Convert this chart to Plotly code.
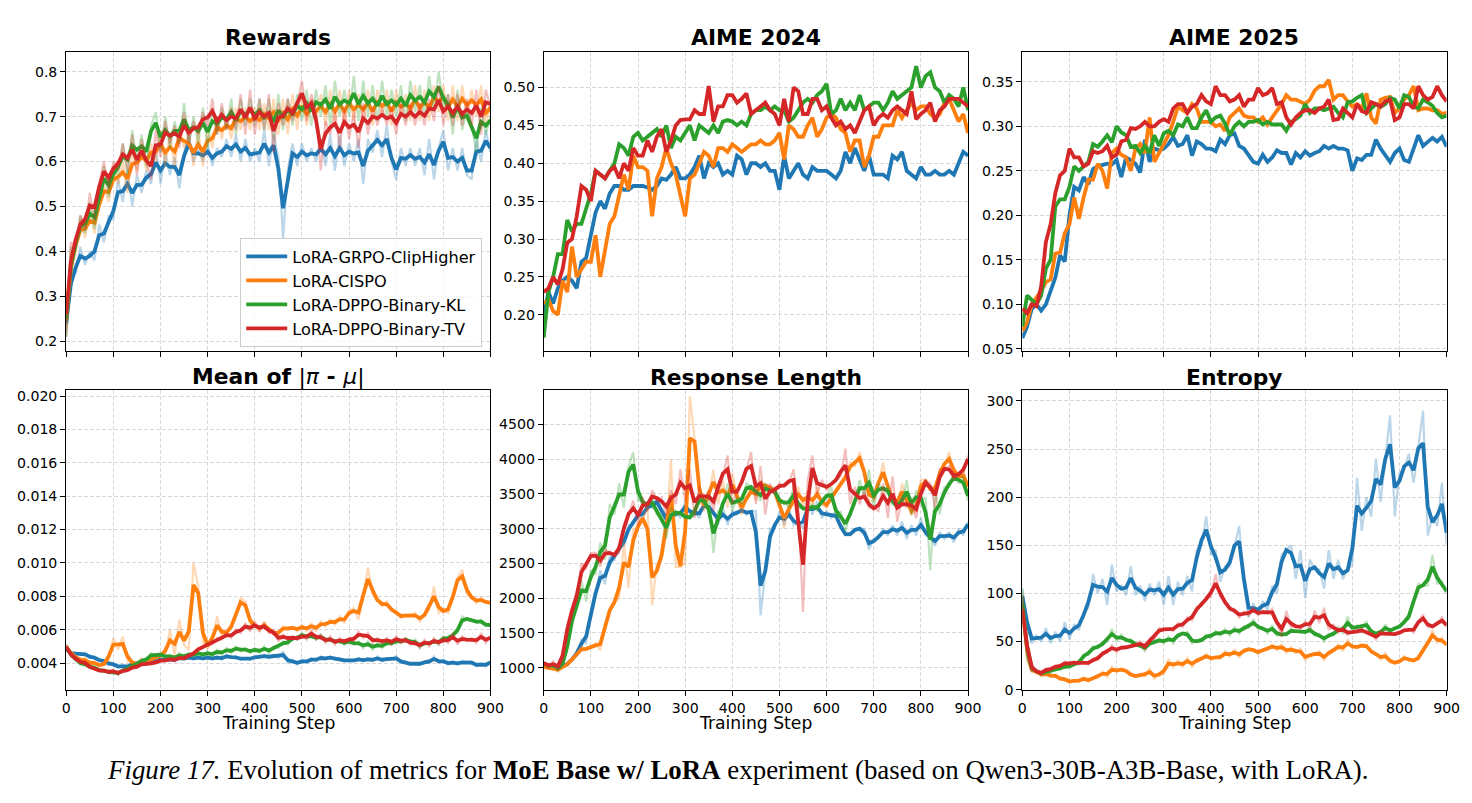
import numpy as np
import plotly.graph_objects as go

# ---------------- data (sampled every 10 training steps, 0..900) ----------------
STEP = 10
SERIES = ["LoRA-GRPO-ClipHigher", "LoRA-CISPO", "LoRA-DPPO-Binary-KL", "LoRA-DPPO-Binary-TV"]
COLORS = ["#1f77b4", "#ff7f0e", "#2ca02c", "#d62728"]
FAINT = ["rgba(31,119,180,0.3)", "rgba(255,127,14,0.3)", "rgba(44,160,44,0.3)", "rgba(214,39,40,0.3)"]

# Rewards (raw per-step values)
rewards_grpo = [0.21,0.36,0.35,0.41,0.37,0.40,0.38,0.46,0.42,0.48,
                0.47,0.56,0.51,0.58,0.50,0.57,0.53,0.58,0.55,0.63,
                0.55,0.62,0.57,0.61,0.54,0.62,0.66,0.60,0.63,0.60,
                0.64,0.59,0.63,0.61,0.65,0.61,0.66,0.60,0.65,0.60,
                0.63,0.60,0.67,0.59,0.66,0.61,0.43,0.58,0.64,0.59,
                0.64,0.60,0.63,0.60,0.65,0.59,0.66,0.58,0.66,0.59,
                0.64,0.60,0.65,0.55,0.65,0.62,0.67,0.61,0.68,0.60,
                0.56,0.63,0.59,0.63,0.59,0.63,0.57,0.65,0.56,0.63,
                0.67,0.58,0.63,0.58,0.63,0.57,0.56,0.65,0.60,0.67,
                0.62]
rewards_cispo = [0.21,0.40,0.40,0.47,0.43,0.49,0.44,0.51,0.55,0.51,
                 0.58,0.55,0.60,0.53,0.62,0.58,0.63,0.58,0.64,0.60,
                 0.67,0.59,0.66,0.59,0.68,0.63,0.66,0.59,0.67,0.59,
                 0.67,0.63,0.70,0.65,0.70,0.65,0.72,0.67,0.72,0.67,
                 0.72,0.67,0.73,0.67,0.74,0.66,0.74,0.66,0.75,0.67,
                 0.75,0.68,0.74,0.69,0.75,0.68,0.76,0.68,0.76,0.68,
                 0.76,0.69,0.75,0.69,0.76,0.68,0.76,0.70,0.76,0.68,
                 0.76,0.70,0.75,0.69,0.77,0.69,0.76,0.69,0.77,0.71,
                 0.77,0.69,0.77,0.69,0.77,0.70,0.76,0.70,0.77,0.68,
                 0.73]
rewards_kl = [0.21,0.41,0.40,0.48,0.44,0.51,0.45,0.52,0.59,0.52,
              0.59,0.57,0.64,0.57,0.67,0.60,0.66,0.59,0.68,0.71,
              0.62,0.70,0.63,0.69,0.64,0.73,0.64,0.70,0.64,0.72,
              0.63,0.72,0.66,0.72,0.67,0.74,0.66,0.74,0.68,0.74,
              0.68,0.74,0.67,0.74,0.65,0.75,0.67,0.74,0.68,0.75,
              0.69,0.76,0.68,0.76,0.70,0.77,0.68,0.78,0.70,0.76,
              0.70,0.79,0.69,0.78,0.70,0.77,0.69,0.78,0.70,0.76,
              0.70,0.77,0.69,0.78,0.71,0.77,0.70,0.79,0.71,0.80,
              0.72,0.75,0.66,0.76,0.67,0.72,0.68,0.62,0.72,0.66,
              0.70]
rewards_tv = [0.22,0.42,0.41,0.48,0.45,0.53,0.47,0.55,0.60,0.54,
              0.60,0.58,0.64,0.58,0.66,0.57,0.65,0.60,0.56,0.67,
              0.61,0.69,0.64,0.68,0.63,0.71,0.64,0.69,0.66,0.71,
              0.68,0.74,0.66,0.73,0.67,0.72,0.67,0.75,0.66,0.76,
              0.66,0.74,0.67,0.75,0.62,0.73,0.68,0.74,0.69,0.73,
              0.78,0.69,0.75,0.71,0.58,0.69,0.66,0.71,0.63,0.72,
              0.65,0.71,0.63,0.73,0.66,0.72,0.68,0.72,0.68,0.72,
              0.66,0.73,0.68,0.73,0.68,0.73,0.68,0.74,0.69,0.77,
              0.68,0.75,0.68,0.75,0.68,0.74,0.68,0.76,0.66,0.76,
              0.72]

# AIME 2024 (evaluation accuracy)
aime24_grpo = [0.20,0.23,0.215,0.235,0.245,0.25,0.245,0.235,0.27,0.275,
               0.305,0.335,0.35,0.34,0.36,0.37,0.37,0.365,0.365,0.37,
               0.37,0.37,0.368,0.365,0.37,0.38,0.378,0.385,0.395,0.38,
               0.38,0.385,0.395,0.41,0.38,0.40,0.395,0.40,0.385,0.39,
               0.385,0.41,0.405,0.385,0.40,0.40,0.395,0.40,0.39,0.39,
               0.365,0.41,0.38,0.39,0.40,0.385,0.38,0.395,0.39,0.39,
               0.39,0.385,0.38,0.39,0.415,0.40,0.42,0.405,0.39,0.41,
               0.385,0.385,0.385,0.38,0.41,0.405,0.415,0.39,0.385,0.38,
               0.395,0.385,0.385,0.39,0.385,0.385,0.39,0.385,0.40,0.415,
               0.41]
aime24_cispo = [0.215,0.22,0.205,0.20,0.245,0.23,0.29,0.25,0.26,0.27,
                0.27,0.305,0.25,0.285,0.32,0.33,0.36,0.385,0.365,0.41,
                0.395,0.395,0.39,0.33,0.38,0.395,0.42,0.40,0.385,0.36,
                0.33,0.38,0.385,0.40,0.415,0.41,0.395,0.42,0.42,0.415,
                0.425,0.42,0.415,0.42,0.425,0.425,0.43,0.425,0.425,0.43,
                0.44,0.405,0.45,0.445,0.435,0.435,0.45,0.46,0.435,0.445,
                0.46,0.465,0.46,0.445,0.44,0.415,0.43,0.43,0.395,0.41,
                0.435,0.435,0.45,0.45,0.45,0.47,0.46,0.47,0.48,0.47,
                0.475,0.475,0.465,0.46,0.465,0.48,0.485,0.47,0.455,0.465,
                0.44]
aime24_kl = [0.17,0.23,0.25,0.28,0.28,0.325,0.31,0.32,0.32,0.34,
             0.36,0.39,0.385,0.38,0.39,0.40,0.425,0.42,0.41,0.435,
             0.44,0.43,0.435,0.44,0.445,0.435,0.45,0.42,0.435,0.43,
             0.44,0.45,0.43,0.45,0.445,0.44,0.45,0.44,0.455,0.457,
             0.455,0.45,0.455,0.45,0.465,0.47,0.47,0.475,0.47,0.475,
             0.47,0.47,0.455,0.46,0.47,0.48,0.485,0.48,0.49,0.495,
             0.505,0.465,0.47,0.485,0.47,0.48,0.47,0.49,0.47,0.475,
             0.48,0.48,0.47,0.48,0.495,0.485,0.49,0.495,0.50,0.528,
             0.50,0.515,0.52,0.50,0.495,0.48,0.49,0.485,0.475,0.50,
             0.47]
aime24_tv = [0.23,0.235,0.25,0.24,0.26,0.295,0.30,0.33,0.37,0.365,
             0.35,0.39,0.385,0.38,0.39,0.395,0.38,0.40,0.39,0.42,
             0.41,0.41,0.43,0.415,0.435,0.445,0.415,0.43,0.45,0.457,
             0.458,0.458,0.47,0.465,0.465,0.502,0.455,0.475,0.475,0.49,
             0.49,0.48,0.485,0.492,0.465,0.47,0.475,0.48,0.47,0.465,
             0.45,0.485,0.455,0.50,0.495,0.465,0.465,0.485,0.485,0.47,
             0.475,0.46,0.45,0.455,0.445,0.45,0.44,0.455,0.47,0.475,
             0.45,0.46,0.465,0.46,0.47,0.475,0.47,0.465,0.495,0.458,
             0.465,0.47,0.48,0.455,0.47,0.475,0.485,0.485,0.485,0.48,
             0.475]

# AIME 2025 (evaluation accuracy)
aime25_grpo = [0.062,0.075,0.095,0.10,0.093,0.10,0.115,0.13,0.155,0.148,
               0.20,0.232,0.228,0.243,0.235,0.252,0.255,0.257,0.258,0.257,
               0.262,0.243,0.265,0.262,0.258,0.248,0.285,0.26,0.275,0.273,
               0.275,0.28,0.288,0.278,0.28,0.29,0.267,0.283,0.28,0.275,
               0.275,0.272,0.285,0.28,0.29,0.292,0.278,0.275,0.268,0.26,
               0.258,0.268,0.26,0.265,0.273,0.27,0.27,0.257,0.27,0.265,
               0.272,0.267,0.27,0.272,0.278,0.275,0.278,0.275,0.275,0.273,
               0.25,0.264,0.262,0.268,0.268,0.285,0.275,0.268,0.26,0.27,
               0.275,0.262,0.26,0.275,0.29,0.278,0.282,0.287,0.283,0.288,
               0.277]
aime25_cispo = [0.07,0.08,0.10,0.108,0.115,0.125,0.128,0.157,0.158,0.18,
                0.19,0.22,0.196,0.22,0.24,0.24,0.258,0.25,0.23,0.27,
                0.275,0.268,0.265,0.25,0.275,0.28,0.27,0.31,0.26,0.27,
                0.28,0.29,0.305,0.322,0.318,0.315,0.325,0.32,0.305,0.305,
                0.305,0.30,0.302,0.295,0.31,0.315,0.32,0.312,0.31,0.31,
                0.305,0.31,0.302,0.31,0.318,0.325,0.335,0.33,0.33,0.328,
                0.325,0.33,0.34,0.345,0.345,0.352,0.33,0.335,0.335,0.328,
                0.322,0.325,0.32,0.337,0.31,0.303,0.33,0.332,0.333,0.315,
                0.32,0.33,0.335,0.345,0.318,0.32,0.32,0.318,0.318,0.314,
                0.315]
aime25_kl = [0.075,0.11,0.105,0.10,0.11,0.14,0.15,0.21,0.218,0.218,
             0.232,0.255,0.25,0.255,0.26,0.28,0.277,0.283,0.29,0.282,
             0.30,0.293,0.29,0.277,0.278,0.27,0.278,0.27,0.29,0.278,
             0.292,0.295,0.29,0.302,0.30,0.31,0.298,0.298,0.31,0.318,
             0.305,0.31,0.312,0.303,0.29,0.30,0.305,0.30,0.305,0.305,
             0.307,0.302,0.305,0.302,0.302,0.302,0.295,0.305,0.308,0.312,
             0.325,0.315,0.32,0.32,0.318,0.32,0.322,0.315,0.31,0.327,
             0.328,0.332,0.335,0.315,0.32,0.325,0.322,0.325,0.332,0.33,
             0.32,0.335,0.333,0.322,0.32,0.33,0.327,0.323,0.315,0.31,
             0.312]
aime25_tv = [0.095,0.09,0.10,0.098,0.12,0.17,0.19,0.225,0.245,0.25,
             0.275,0.265,0.265,0.255,0.258,0.272,0.27,0.272,0.278,0.265,
             0.268,0.283,0.285,0.298,0.297,0.30,0.305,0.30,0.30,0.305,
             0.308,0.305,0.32,0.325,0.325,0.315,0.322,0.325,0.335,0.328,
             0.325,0.345,0.335,0.335,0.328,0.33,0.335,0.322,0.33,0.33,
             0.343,0.335,0.337,0.343,0.325,0.327,0.31,0.302,0.31,0.315,
             0.318,0.318,0.315,0.32,0.322,0.33,0.307,0.308,0.32,0.315,
             0.31,0.325,0.317,0.315,0.327,0.325,0.322,0.328,0.33,0.307,
             0.31,0.325,0.325,0.32,0.345,0.335,0.33,0.333,0.345,0.335,
             0.328]

# Mean of |pi - mu| (raw per-step values)
mean_grpo = [0.0049,0.0045,0.0046,0.0045,0.0046,0.0043,0.0044,0.0041,0.0042,0.0039,
             0.0040,0.0037,0.0039,0.0037,0.0040,0.0039,0.0041,0.0039,0.0042,0.0040,
             0.0043,0.0041,0.0043,0.0041,0.0044,0.0042,0.0044,0.0042,0.0044,0.0042,
             0.0044,0.0042,0.0044,0.0042,0.0045,0.0043,0.0044,0.0042,0.0043,0.0042,
             0.0044,0.0043,0.0045,0.0043,0.0045,0.0043,0.0047,0.0040,0.0042,0.0039,
             0.0042,0.0040,0.0043,0.0041,0.0044,0.0042,0.0044,0.0042,0.0043,0.0041,
             0.0042,0.0041,0.0043,0.0041,0.0043,0.0041,0.0044,0.0041,0.0043,0.0042,
             0.0044,0.0040,0.0041,0.0039,0.0040,0.0039,0.0041,0.0040,0.0044,0.0040,
             0.0042,0.0039,0.0041,0.0039,0.0041,0.0040,0.0041,0.0038,0.0040,0.0038,
             0.0041]
mean_cispo = [0.0051,0.0045,0.0044,0.0041,0.0043,0.0039,0.0041,0.0038,0.0039,0.0042,
              0.0055,0.0048,0.0056,0.0041,0.0041,0.0038,0.0043,0.0040,0.0043,0.0043,
              0.0045,0.0044,0.0060,0.0044,0.0066,0.0051,0.0048,0.0100,0.0086,0.0052,
              0.0049,0.0053,0.0068,0.0056,0.0058,0.0061,0.0068,0.0079,0.0077,0.0063,
              0.0063,0.0059,0.0065,0.0059,0.0058,0.0057,0.0062,0.0060,0.0062,0.0059,
              0.0063,0.0059,0.0064,0.0059,0.0065,0.0062,0.0066,0.0063,0.0068,0.0064,
              0.0071,0.0073,0.0066,0.0080,0.0097,0.0081,0.0078,0.0074,0.0077,0.0071,
              0.0071,0.0067,0.0069,0.0068,0.0070,0.0065,0.0069,0.0072,0.0086,0.0070,
              0.0072,0.0070,0.0079,0.0091,0.0096,0.0081,0.0080,0.0076,0.0079,0.0076,
              0.0076]
mean_kl = [0.0051,0.0044,0.0043,0.0039,0.0040,0.0037,0.0038,0.0035,0.0036,0.0034,
           0.0035,0.0033,0.0036,0.0036,0.0039,0.0039,0.0042,0.0041,0.0046,0.0044,
           0.0046,0.0043,0.0045,0.0042,0.0046,0.0043,0.0046,0.0044,0.0047,0.0044,
           0.0047,0.0044,0.0048,0.0045,0.0049,0.0046,0.0050,0.0047,0.0049,0.0046,
           0.0049,0.0046,0.0050,0.0046,0.0050,0.0049,0.0053,0.0051,0.0056,0.0054,
           0.0058,0.0055,0.0057,0.0054,0.0057,0.0053,0.0055,0.0052,0.0054,0.0051,
           0.0054,0.0051,0.0053,0.0049,0.0053,0.0048,0.0052,0.0049,0.0053,0.0051,
           0.0054,0.0052,0.0055,0.0052,0.0054,0.0049,0.0053,0.0051,0.0054,0.0051,
           0.0056,0.0054,0.0057,0.0058,0.0068,0.0066,0.0066,0.0064,0.0066,0.0062,
           0.0063]
mean_tv = [0.0051,0.0044,0.0043,0.0040,0.0041,0.0037,0.0037,0.0035,0.0036,0.0034,
           0.0036,0.0033,0.0036,0.0035,0.0038,0.0037,0.0040,0.0039,0.0040,0.0040,
           0.0042,0.0041,0.0043,0.0041,0.0044,0.0042,0.0045,0.0045,0.0049,0.0049,
           0.0052,0.0051,0.0055,0.0054,0.0058,0.0055,0.0060,0.0058,0.0064,0.0059,
           0.0065,0.0059,0.0064,0.0058,0.0060,0.0053,0.0057,0.0054,0.0056,0.0054,
           0.0057,0.0054,0.0060,0.0054,0.0057,0.0052,0.0056,0.0051,0.0055,0.0052,
           0.0055,0.0053,0.0059,0.0055,0.0058,0.0052,0.0055,0.0052,0.0055,0.0051,
           0.0056,0.0052,0.0055,0.0051,0.0053,0.0049,0.0054,0.0050,0.0055,0.0051,
           0.0055,0.0052,0.0058,0.0051,0.0056,0.0053,0.0055,0.0052,0.0058,0.0052,
           0.0056]

# Response length (raw per-step values)
length_grpo = [1020,990,1030,970,1040,1030,1130,1170,1400,1350,
               1800,2050,2400,2200,2600,2550,2750,2750,3050,3050,
               3250,3150,3350,3300,3450,3250,3100,3150,3250,3150,
               3400,3200,3250,3150,3400,3300,3250,3050,3300,3050,
               3250,3200,3300,3200,3250,3250,1750,2400,3000,3000,
               3250,3050,3300,3050,3100,3000,3400,3200,3400,3150,
               3250,3150,3250,3000,2900,2900,3000,3000,3000,2700,
               2850,2850,3000,2900,3050,2900,3100,2850,3050,2900,
               3150,2900,2900,2750,2950,2850,2950,2800,3000,2900,
               3100]
length_cispo = [1020,980,1000,940,1020,1030,1130,1170,1300,1250,
                1300,1350,1250,1600,1850,1950,2000,2800,2150,3000,
                3000,3150,3300,1900,2500,2550,2950,4000,2450,2450,
                2500,4900,4300,3450,3250,3450,3850,3350,3700,3300,
                3800,3450,3200,3450,3600,3400,3700,3600,3600,3550,
                3400,3000,3350,3350,3600,3300,3550,3300,3600,3350,
                3300,3450,3550,3650,3700,3950,3900,4100,3850,3400,
                3400,3650,3950,3550,3400,3300,3650,3400,3200,3250,
                3700,3700,3550,3500,3850,3900,4100,3800,3700,3850,
                3550]
length_kl = [1080,1000,1060,960,1030,1250,1750,1850,2250,1950,
             2400,2350,2800,2550,3350,3200,3650,3300,3900,4100,
             3400,3400,3300,3450,3200,3200,2850,3300,3200,3250,
             3150,3150,3200,3500,3350,3450,2650,3250,3300,3650,
             3250,3450,3350,3650,3600,3550,3400,3650,3500,3600,
             3350,3400,3300,3600,3300,3300,3250,3350,3250,3400,
             3450,3600,3150,3250,2950,3250,3350,3700,3450,3850,
             3300,3650,3550,3600,3350,3300,3350,3700,3200,3550,
             3400,3450,2400,3550,3200,3600,3600,3800,3650,3750,
             3400]
length_tv = [1080,1000,1090,970,1100,1600,1850,1950,2500,2420,
             2650,2650,2450,2700,2650,2600,2650,3050,3200,3400,
             3050,3450,3250,3550,3400,3450,3200,3550,3350,3850,
             3400,3850,3150,3600,3400,3550,3250,3650,3750,4050,
             3350,3550,3650,3850,4100,3350,3900,3200,3650,3500,
             3650,3600,3650,3850,3300,1800,3700,4050,3500,3700,
             3550,3650,3700,3750,4150,3350,3600,3350,3550,3300,
             3300,3250,3650,3150,3750,3100,3450,3300,3400,3150,
             3550,3700,3650,3300,3850,3850,3900,3700,3800,3800,
             4050]

# Entropy (raw per-step values)
entropy_grpo = [105,66,48,56,50,64,48,60,50,70,
                52,68,62,80,85,120,100,115,88,130,
                102,108,98,128,98,108,92,110,98,112,
                88,118,88,112,98,118,102,145,150,180,
                140,145,112,128,128,150,170,110,75,90,
                78,92,82,108,100,140,145,150,115,145,
                95,135,125,125,105,145,115,135,115,125,
                130,220,165,200,180,240,195,240,285,180,
                225,230,245,215,250,290,160,180,170,215,
                150]
entropy_cispo = [100,30,18,19,14,18,13,16,10,12,
                 7,10,8,13,8,13,12,19,13,24,
                 18,22,20,15,13,16,14,22,11,17,
                 16,32,23,30,23,34,23,32,31,37,
                 31,34,32,40,34,42,33,42,42,42,
                 37,42,41,47,41,47,38,44,38,43,
                 30,37,36,40,30,40,40,47,40,52,
                 43,44,46,47,38,38,31,38,28,28,
                 28,35,30,30,31,42,48,62,48,54,
                 45]
entropy_kl = [105,32,20,20,15,20,17,23,20,25,
              23,27,26,37,36,45,43,48,50,63,
              50,57,50,52,46,47,40,50,48,53,
              48,55,48,58,58,60,48,51,50,57,
              54,61,56,63,56,65,58,66,64,73,
              63,65,58,67,56,58,56,63,60,61,
              58,65,56,58,50,58,56,65,58,76,
              60,67,64,71,58,58,58,68,58,65,
              64,71,73,92,110,108,108,140,110,112,
              100]
entropy_tv = [95,38,20,20,15,22,20,25,23,29,
              26,29,27,29,26,32,31,39,38,46,
              39,45,43,46,46,50,41,53,52,64,
              62,63,61,69,65,75,72,86,87,96,
              96,120,96,92,82,84,75,81,77,86,
              77,82,79,84,70,55,82,65,67,63,
              71,63,82,69,85,62,67,59,65,57,
              61,59,63,59,58,52,61,57,58,57,
              59,62,63,59,71,78,65,65,68,75,
              65]

# tick labels
X_TICKS = [0, 100, 200, 300, 400, 500, 600, 700, 800, 900]
REWARD_TICKS = [0.2, 0.3, 0.4, 0.5, 0.6, 0.7, 0.8]
AIME24_TICKS = [0.20, 0.25, 0.30, 0.35, 0.40, 0.45, 0.50]
AIME25_TICKS = [0.05, 0.10, 0.15, 0.20, 0.25, 0.30, 0.35]
MEAN_TICKS = [0.004, 0.006, 0.008, 0.010, 0.012, 0.014, 0.016, 0.018, 0.020]
LENGTH_TICKS = [1000, 1500, 2000, 2500, 3000, 3500, 4000, 4500]
ENTROPY_TICKS = [0, 50, 100, 150, 200, 250, 300]

# ---------------- figure ----------------
W, H = 1472, 803
# observed display mapping of the rendered page: shown = S * design + offset
SX, OX, SY = 0.9894, 3.7, 0.99
FS = 1 / SX  # font compensation


def px(x):  # target pixel x -> paper fraction
    return (x - OX) / SX / W


def py(y):  # target pixel y (from top) -> paper fraction
    return 1 - y / SY / H


COLS_PX = [(65, 490), (543.3, 968.3), (1022.7, 1447.7)]
ROWS_PX = [(50, 350), (389.3, 689.3)]


def smooth(v):
    v = np.asarray(v, dtype=float)
    p = np.concatenate([[v[0]], v, [v[-1]]])
    return 0.2 * p[:-2] + 0.6 * p[1:-1] + 0.2 * p[2:]


panels = [
    dict(title="<b>Rewards</b>", data=[rewards_grpo, rewards_cispo, rewards_kl, rewards_tv],
         raw=True, yr=[0.178, 0.844], ticks=REWARD_TICKS, fmt=".1f", r=0, c=0, legend=True),
    dict(title="<b>AIME 2024</b>", data=[aime24_grpo, aime24_cispo, aime24_kl, aime24_tv],
         raw=False, yr=[0.152, 0.547], ticks=AIME24_TICKS, fmt=".2f", r=0, c=1),
    dict(title="<b>AIME 2025</b>", data=[aime25_grpo, aime25_cispo, aime25_kl, aime25_tv],
         raw=False, yr=[0.0474, 0.3836], ticks=AIME25_TICKS, fmt=".2f", r=0, c=2),
    dict(title="<b>Mean of </b>|<i>π</i><b> - </b><i>μ</i>|", data=[mean_grpo, mean_cispo, mean_kl, mean_tv],
         raw=True, yr=[0.00241, 0.02034], ticks=MEAN_TICKS, fmt=".3f", r=1, c=0),
    dict(title="<b>Response Length</b>", data=[length_grpo, length_cispo, length_kl, length_tv],
         raw=True, yr=[684, 4988], ticks=LENGTH_TICKS, fmt="d", r=1, c=1),
    dict(title="<b>Entropy</b>", data=[entropy_grpo, entropy_cispo, entropy_kl, entropy_tv],
         raw=True, yr=[0, 311], ticks=ENTROPY_TICKS, fmt="d", r=1, c=2),
]

fig = go.Figure()
layout = dict(width=W, height=H, margin=dict(l=0, r=0, t=0, b=0),
              paper_bgcolor="white", plot_bgcolor="white", showlegend=True,
              font=dict(family="DejaVu Sans", size=14 * FS, color="black"))
annotations = []
TICKFONT = dict(family="DejaVu Sans", size=14 * FS, color="black")

for i, p in enumerate(panels):
    k = "" if i == 0 else str(i + 1)
    x0, x1 = COLS_PX[p["c"]]
    y0, y1 = ROWS_PX[p["r"]]
    xdom = [px(x0), px(x1)]
    ydom = [py(y1), py(y0)]
    common = dict(showline=True, mirror=True, linecolor="black", linewidth=1,
                  ticks="outside", ticklen=5, tickwidth=1, tickcolor="black",
                  showgrid=True, gridcolor="#d9d9d9", gridwidth=1, griddash="4px,2px",
                  zeroline=False, tickfont=TICKFONT)
    layout["xaxis" + k] = dict(domain=xdom, range=[0, 900], tickvals=X_TICKS,
                               showticklabels=(p["r"] == 1), anchor="y" + k, **common)
    layout["yaxis" + k] = dict(domain=ydom, range=p["yr"], tickvals=p["ticks"],
                               tickformat=p["fmt"], anchor="x" + k, **common)
    for s, vals in enumerate(p["data"]):
        xs = np.arange(len(vals)) * STEP
        if p["raw"]:
            fig.add_trace(go.Scatter(x=xs, y=vals, mode="lines", xaxis="x" + k, yaxis="y" + k,
                                     line=dict(color=FAINT[s], width=2.2), showlegend=False,
                                     hoverinfo="skip"))
            ys = smooth(vals)
        else:
            ys = np.asarray(vals, dtype=float)
        fig.add_trace(go.Scatter(x=xs, y=ys, mode="lines", xaxis="x" + k, yaxis="y" + k,
                                 line=dict(color=COLORS[s], width=3.8), name=SERIES[s],
                                 showlegend=bool(p.get("legend", False))))
    cx = px((x0 + x1) / 2)
    ty = 36 if p["r"] == 0 else 376
    annotations.append(dict(text=p["title"], x=cx, y=py(ty), xref="paper", yref="paper",
                            xanchor="center", yanchor="middle", showarrow=False,
                            font=dict(family="DejaVu Sans", size=21.6 * FS, color="black")))
    if p["r"] == 1:
        annotations.append(dict(text="Training Step", x=cx, y=py(722.5), xref="paper", yref="paper",
                                xanchor="center", yanchor="middle", showarrow=False,
                                font=dict(family="DejaVu Sans", size=17 * FS, color="black")))

annotations.append(dict(
    text="<i>Figure 17.</i> Evolution of metrics for <b>MoE Base w/ LoRA</b> experiment "
         "(based on Qwen3-30B-A3B-Base, with LoRA).",
    x=px(737.5), y=py(770), xref="paper", yref="paper", xanchor="center", yanchor="middle",
    showarrow=False, font=dict(family="Liberation Serif", size=26.6 * FS, color="black")))

layout["annotations"] = annotations
layout["legend"] = dict(x=px(481.7), xanchor="right", y=py(291.5), yanchor="middle",
                        font=dict(family="DejaVu Sans", size=16 * FS, color="black"),
                        bgcolor="rgba(255,255,255,0.8)", bordercolor="#cccccc", borderwidth=1,
                        itemwidth=41, tracegroupgap=0)
fig.update_layout(**layout)
fig.write_html("out.html")
